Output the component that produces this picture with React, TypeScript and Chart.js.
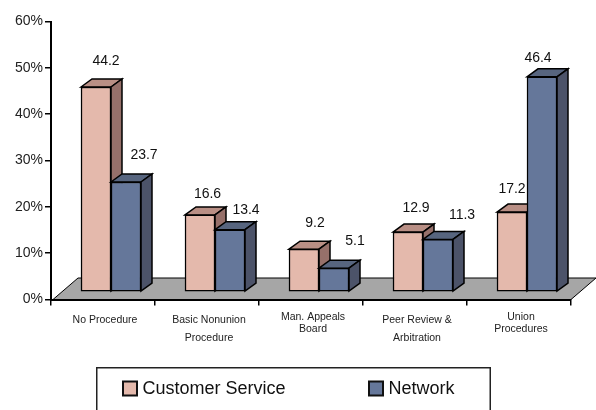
import React, { useEffect, useRef } from "react";
import { Chart, registerables } from "chart.js";

Chart.register(...registerables);

const categories = [
  ["No Procedure"],
  ["Basic Nonunion", "Procedure"],
  ["Man. Appeals", "Board"],
  ["Peer Review &", "Arbitration"],
  ["Union", "Procedures"],
];
const categoryLineHeights = [18, 18, 12, 18, 12];
const customerService = [44.2, 16.6, 9.2, 12.9, 17.2];
const network = [23.7, 13.4, 5.1, 11.3, 46.4];
const yTicks = [0, 10, 20, 30, 40, 50, 60];

// label nudges relative to each bar's top-centre
const csLabelDx = [10, 7.5, 11, 8, 0];
const csLabelDy = [-26, -21, -26, -24, -23];
const netLabelDx = [18, 16, 21, 24, -4];
const netLabelDy = [-27, -20, -27, -24, -19];

const FONT = "'Liberation Sans', Arial, sans-serif";
const DEPTH_X = 11;
const DEPTH_Y = 8;
const SHIFT_X = 8;
const SHIFT_Y = 7.7;

const faces = [
  { top: "#B98F85", side: "#96706A" },
  { top: "#57657F", side: "#4C5369" },
];

function poly(ctx: CanvasRenderingContext2D, pts: number[][], fill: string, stroke: string, lw: number) {
  ctx.beginPath();
  pts.forEach(([x, y], i) => (i ? ctx.lineTo(x, y) : ctx.moveTo(x, y)));
  ctx.closePath();
  ctx.fillStyle = fill;
  ctx.fill();
  if (lw > 0) {
    ctx.lineWidth = lw;
    ctx.strokeStyle = stroke;
    ctx.lineJoin = "miter";
    ctx.stroke();
  }
}

const bar3d = {
  id: "bar3d",
  // Chart.js paints the last dataset first; here the first must be underneath,
  // so the native pass is cancelled and the controllers are drawn in series order.
  beforeDatasetDraw() {
    return false;
  },
  beforeDatasetsDraw(chart: any) {
    const { ctx, chartArea: a } = chart;
    poly(
      ctx,
      [
        [a.left + 2, a.bottom],
        [a.left + 27, a.bottom - 21.5],
        [a.right + 25, a.bottom - 21.5],
        [a.right, a.bottom],
      ],
      "#A6A6A6",
      "#000",
      1
    );
    chart.data.datasets.forEach((_: any, di: number) => {
      const meta = chart.getDatasetMeta(di);
      const f = faces[di];
      ctx.save();
      ctx.translate(SHIFT_X, -SHIFT_Y);
      meta.data.forEach((b: any) => {
        const p = b.getProps(["x", "y", "base", "width"], true);
        const l = p.x - p.width / 2;
        const r = p.x + p.width / 2;
        poly(ctx, [[l, p.y], [l + DEPTH_X, p.y - DEPTH_Y], [r + DEPTH_X, p.y - DEPTH_Y], [r, p.y]], f.top, "#000", 1.5);
        poly(ctx, [[r, p.y], [r + DEPTH_X, p.y - DEPTH_Y], [r + DEPTH_X, p.base - DEPTH_Y], [r, p.base]], f.side, "#000", 1.5);
      });
      meta.controller.draw();
      ctx.restore();
    });
  },
  afterDatasetsDraw(chart: any) {
    const { ctx } = chart;
    ctx.save();
    ctx.font = `14px ${FONT}`;
    ctx.fillStyle = "#111";
    ctx.textAlign = "center";
    ctx.textBaseline = "middle";
    chart.data.datasets.forEach((ds: any, di: number) => {
      const dxs = di === 0 ? csLabelDx : netLabelDx;
      const dys = di === 0 ? csLabelDy : netLabelDy;
      chart.getDatasetMeta(di).data.forEach((b: any, i: number) => {
        ctx.fillText(ds.data[i].toFixed(1), b.x + SHIFT_X + dxs[i], b.y - SHIFT_Y + dys[i]);
      });
    });
    ctx.restore();
  },
  afterDraw(chart: any) {
    const { ctx } = chart;
    ctx.save();
    ctx.strokeStyle = "#222";
    ctx.lineWidth = 1.5;
    ctx.beginPath();
    ctx.moveTo(96.75, 410);
    ctx.lineTo(96.75, 367.75);
    ctx.lineTo(490.25, 367.75);
    ctx.lineTo(490.25, 410);
    ctx.stroke();
    const swatchX = [123, 369];
    ctx.font = `18px ${FONT}`;
    ctx.textBaseline = "middle";
    ctx.textAlign = "left";
    chart.data.datasets.forEach((ds: any, i: number) => {
      ctx.fillStyle = ds.backgroundColor;
      ctx.fillRect(swatchX[i], 381.5, 14, 14);
      ctx.strokeStyle = "#111";
      ctx.lineWidth = 2;
      ctx.strokeRect(swatchX[i], 381.5, 14, 14);
      ctx.fillStyle = "#111";
      ctx.fillText(ds.label, swatchX[i] + 19.5, 389);
    });
    ctx.restore();
  },
};

export default function App() {
  const ref = useRef<HTMLCanvasElement>(null);
  useEffect(() => {
    document.body.style.margin = "0";
    const chart = new Chart(ref.current as HTMLCanvasElement, {
      type: "bar",
      data: {
        labels: categories as any,
        datasets: [
          {
            label: "Customer Service",
            data: customerService,
            backgroundColor: "#E4B9AC",
            borderColor: "#000",
            borderWidth: 1.5,
            borderSkipped: false,
          },
          {
            label: "Network",
            data: network,
            backgroundColor: "#65779A",
            borderColor: "#000",
            borderWidth: 1.5,
            borderSkipped: false,
          },
        ],
      },
      options: {
        responsive: false,
        animation: false,
        layout: { padding: { top: 21.5, right: 25, left: 0, bottom: 0 } },
        datasets: { bar: { barThickness: 30 } } as any,
        plugins: { legend: { display: false }, tooltip: { enabled: false } },
        scales: {
          x: {
            afterFit: (s: any) => {
              s.height = 110.5;
            },
            grid: { drawOnChartArea: false, color: "#000", lineWidth: 1.5, tickLength: 6 },
            border: { color: "#000", width: 2 },
            ticks: {
              autoSkip: false,
              maxRotation: 0,
              minRotation: 0,
              padding: 5.5,
              labelOffset: 2,
              color: "#222",
              font: (c: any) => ({
                family: FONT,
                size: 10.5,
                lineHeight: (categoryLineHeights[c.index] ?? 12) + "px",
              }),
            } as any,
          },
          y: {
            min: 0,
            max: 60,
            afterFit: (s: any) => {
              s.width = 51;
            },
            afterBuildTicks: (s: any) => {
              s.ticks = yTicks.map((value) => ({ value }));
            },
            grid: { drawOnChartArea: false, color: "#000", lineWidth: 1.5, tickLength: 6 },
            border: { color: "#000", width: 2 },
            ticks: {
              padding: 2,
              color: "#222",
              font: { family: FONT, size: 14 },
              callback: (v: any) => v + "%",
            },
          },
        },
      },
      plugins: [bar3d],
    });
    return () => chart.destroy();
  }, []);
  return (
    <div style={{ width: 596, height: 410, overflow: "hidden", background: "#fff" }}>
      <canvas ref={ref} width={596} height={410} style={{ display: "block" }} />
    </div>
  );
}
